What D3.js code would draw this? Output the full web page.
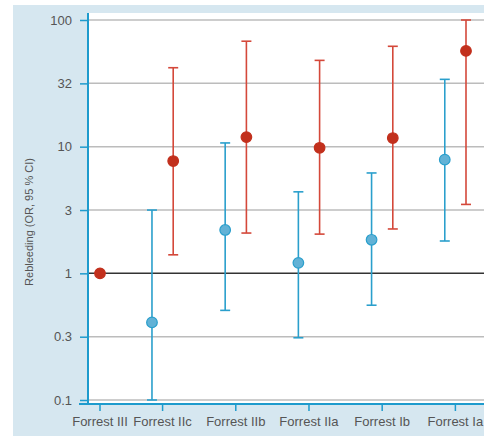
<!DOCTYPE html>
<html>
<head>
<meta charset="utf-8">
<script src="https://cdn.jsdelivr.net/npm/d3@7/dist/d3.min.js"></script>
<style>
  body { margin: 0; background: #fff; }
  svg { display: block; font-family: "Liberation Sans", Arial, sans-serif; }
</style>
</head>
<body>
<div id="chart"></div>
<script>
// Forrest classes and odds ratios (point, lower CI, upper CI)
const categories = ["Forrest III", "Forrest IIc", "Forrest IIb", "Forrest IIa", "Forrest Ib", "Forrest Ia"];

// blue series (no value for Forrest III)
const blueOR = [null, 0.41, 2.2, 1.21, 1.84, 7.9];
const blueLow = [null, 0.1, 0.51, 0.31, 0.56, 1.8];
const blueHigh = [null, 3.16, 10.7, 4.4, 6.2, 34];

// red series
const redOR = [1, 7.7, 11.9, 9.8, 11.7, 57];
const redLow = [null, 1.4, 2.08, 2.04, 2.24, 3.5];
const redHigh = [null, 42, 68, 48, 62, 100];

const yTicks = [0.1, 0.316, 1, 3.16, 10, 31.6, 100];
const yTickLabels = ["0.1", "0.3", "1", "3", "10", "32", "100"];

const width = 484, height = 436;
const margin = { top: 13, right: 0, bottom: 32, left: 88 };

const svg = d3.select("#chart").append("svg")
  .attr("width", width)
  .attr("height", height);

// light blue panel + white plot area
svg.append("rect")
  .attr("x", 13).attr("y", 5)
  .attr("width", width - 13).attr("height", height - 5)
  .attr("fill", "#d6e7f0");
svg.append("rect")
  .attr("x", margin.left).attr("y", margin.top)
  .attr("width", width - margin.left - margin.right)
  .attr("height", 404 - margin.top)
  .attr("fill", "#fff");

const y = d3.scaleLog().domain([0.1, 100]).range([400, 20]);

// red points sit on the scale, blue ones a bit to the left
const x = d3.scalePoint().domain(categories).range([100, 466]);
const step = x.step();
const blueX = c => x(c) - step * 0.29;

// group centre for the axis ticks
const groupX = (c, i) => blueOR[i] == null ? x(c) : (x(c) + blueX(c)) / 2;

// gridlines
svg.append("g")
  .selectAll("line")
  .data(yTicks)
  .join("line")
  .attr("x1", margin.left)
  .attr("x2", width)
  .attr("y1", d => y(d))
  .attr("y2", d => y(d))
  .attr("stroke", d => d === 1 ? "#333" : "#bcbcbc")
  .attr("stroke-width", 1.5);

// y axis
const yAxis = svg.append("g")
  .attr("transform", `translate(${margin.left},0)`)
  .call(d3.axisLeft(y).tickValues(yTicks)
    .tickFormat((d, i) => yTickLabels[i])
    .tickSize(8).tickPadding(8));
yAxis.select(".domain").remove();
yAxis.selectAll(".tick line").attr("stroke", "#1e9bcd").attr("stroke-width", 1.5);
yAxis.selectAll(".tick text")
  .attr("fill", "#555")
  .style("font-size", "13px")
  .attr("font-family", null);

svg.append("line")
  .attr("x1", margin.left).attr("x2", margin.left)
  .attr("y1", margin.top).attr("y2", 404)
  .attr("stroke", "#1e9bcd").attr("stroke-width", 2);

// x axis
const xAxisG = svg.append("g");
xAxisG.append("line")
  .attr("x1", 79).attr("x2", width)
  .attr("y1", 404).attr("y2", 404)
  .attr("stroke", "#1e9bcd").attr("stroke-width", 2);
xAxisG.selectAll("line.tick")
  .data(categories)
  .join("line")
  .attr("class", "tick")
  .attr("x1", (d, i) => groupX(d, i))
  .attr("x2", (d, i) => groupX(d, i))
  .attr("y1", 404).attr("y2", 411)
  .attr("stroke", "#1e9bcd").attr("stroke-width", 1.5);
xAxisG.selectAll("text")
  .data(categories)
  .join("text")
  .attr("x", (d, i) => groupX(d, i))
  .attr("y", 426)
  .attr("text-anchor", "middle")
  .attr("fill", "#555")
  .style("font-size", "13px")
  .text(d => d);

// y title
svg.append("text")
  .attr("transform", "translate(33,222) rotate(-90)")
  .attr("text-anchor", "middle")
  .attr("fill", "#555")
  .style("font-size", "11px")
  .text("Rebleeding (OR, 95 % CI)");

// error bars
function drawSeries(cls, xpos, est, low, high, lineColor, fill, stroke) {
  const rows = categories.map((c, i) => ({ c, i, est: est[i], low: low[i], high: high[i] }))
    .filter(d => d.est != null);
  const g = svg.append("g").attr("class", cls);
  const bars = rows.filter(d => d.low != null);
  g.selectAll("line.bar")
    .data(bars)
    .join("line")
    .attr("class", "bar")
    .attr("x1", d => xpos(d.c)).attr("x2", d => xpos(d.c))
    .attr("y1", d => y(d.low)).attr("y2", d => y(d.high))
    .attr("stroke", lineColor).attr("stroke-width", 1.6);
  ["low", "high"].forEach(k => {
    g.selectAll("line.cap-" + k)
      .data(bars)
      .join("line")
      .attr("class", "cap-" + k)
      .attr("x1", d => xpos(d.c) - 5).attr("x2", d => xpos(d.c) + 5)
      .attr("y1", d => y(d[k])).attr("y2", d => y(d[k]))
      .attr("stroke", lineColor).attr("stroke-width", 1.6);
  });
  g.selectAll("circle")
    .data(rows)
    .join("circle")
    .attr("cx", d => xpos(d.c))
    .attr("cy", d => y(d.est))
    .attr("r", 5.3)
    .attr("fill", fill)
    .attr("stroke", stroke)
    .attr("stroke-width", 1.2);
}

drawSeries("blue", blueX, blueOR, blueLow, blueHigh, "#2a9fcc", "#62b2d6", "#2a9fcc");
drawSeries("red", d => x(d), redOR, redLow, redHigh, "#d4483a", "#c2301d", "#c2301d");
</script>
</body>
</html>
